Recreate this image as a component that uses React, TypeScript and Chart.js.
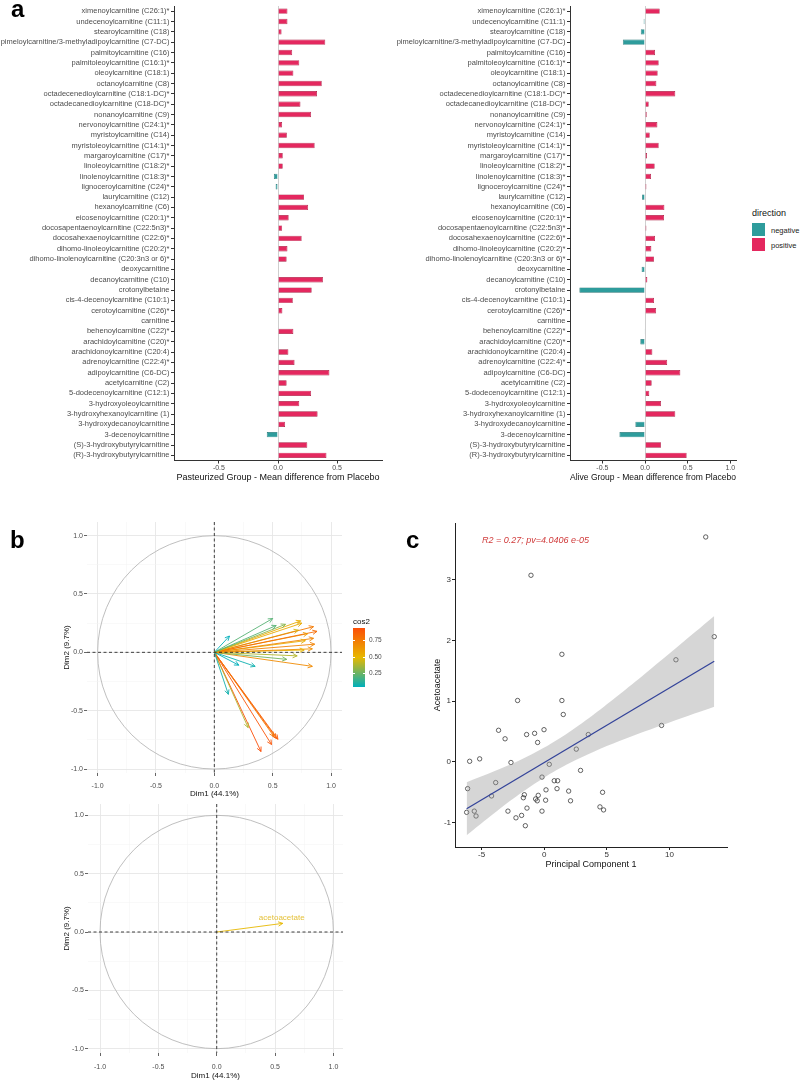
import React, { useEffect, useRef } from 'react';
import { Chart, registerables } from 'chart.js';

Chart.register(...registerables);

const FONT = "'Liberation Sans', Arial, Helvetica, sans-serif";
Chart.defaults.font.family = FONT;

// ---------------- Panel a data ----------------
const CATEGORIES = [
  'ximenoylcarnitine (C26:1)*',
  'undecenoylcarnitine (C11:1)',
  'stearoylcarnitine (C18)',
  'pimeloylcarnitine/3-methyladipoylcarnitine (C7-DC)',
  'palmitoylcarnitine (C16)',
  'palmitoleoylcarnitine (C16:1)*',
  'oleoylcarnitine (C18:1)',
  'octanoylcarnitine (C8)',
  'octadecenedioylcarnitine (C18:1-DC)*',
  'octadecanedioylcarnitine (C18-DC)*',
  'nonanoylcarnitine (C9)',
  'nervonoylcarnitine (C24:1)*',
  'myristoylcarnitine (C14)',
  'myristoleoylcarnitine (C14:1)*',
  'margaroylcarnitine (C17)*',
  'linoleoylcarnitine (C18:2)*',
  'linolenoylcarnitine (C18:3)*',
  'lignoceroylcarnitine (C24)*',
  'laurylcarnitine (C12)',
  'hexanoylcarnitine (C6)',
  'eicosenoylcarnitine (C20:1)*',
  'docosapentaenoylcarnitine (C22:5n3)*',
  'docosahexaenoylcarnitine (C22:6)*',
  'dihomo-linoleoylcarnitine (C20:2)*',
  'dihomo-linolenoylcarnitine (C20:3n3 or 6)*',
  'deoxycarnitine',
  'decanoylcarnitine (C10)',
  'crotonylbetaine',
  'cis-4-decenoylcarnitine (C10:1)',
  'cerotoylcarnitine (C26)*',
  'carnitine',
  'behenoylcarnitine (C22)*',
  'arachidoylcarnitine (C20)*',
  'arachidonoylcarnitine (C20:4)',
  'adrenoylcarnitine (C22:4)*',
  'adipoylcarnitine (C6-DC)',
  'acetylcarnitine (C2)',
  '5-dodecenoylcarnitine (C12:1)',
  '3-hydroxyoleoylcarnitine',
  '3-hydroxyhexanoylcarnitine (1)',
  '3-hydroxydecanoylcarnitine',
  '3-decenoylcarnitine',
  '(S)-3-hydroxybutyrylcarnitine',
  '(R)-3-hydroxybutyrylcarnitine',
];

const PASTEURIZED = [
  0.08, 0.08, 0.03, 0.40, 0.12, 0.18, 0.13, 0.37, 0.33, 0.19,
  0.28, 0.035, 0.075, 0.31, 0.04, 0.04, -0.035, -0.02, 0.22, 0.255,
  0.09, 0.035, 0.20, 0.08, 0.073, 0.005, 0.38, 0.285, 0.125, 0.037,
  0, 0.13, 0, 0.088, 0.14, 0.435, 0.073, 0.28, 0.18, 0.335,
  0.06, -0.095, 0.248, 0.41,
];

const ALIVE = [
  0.172, -0.016, -0.05, -0.26, 0.117, 0.16, 0.148, 0.133, 0.355, 0.043,
  0.02, 0.145, 0.055, 0.16, 0.023, 0.113, 0.07, 0.016, -0.035, 0.227,
  0.223, 0.016, 0.117, 0.074, 0.105, -0.04, 0.027, -0.77, 0.105, 0.13,
  0, -0.008, -0.055, 0.086, 0.26, 0.414, 0.078, 0.05, 0.187, 0.355,
  -0.113, -0.30, 0.187, 0.488,
];

const A_LEFT_TICKS = [-0.5, 0, 0.5];
const A_RIGHT_TICKS = [-0.5, 0, 0.5, 1.0];
const DIRECTION_LABELS = ['negative', 'positive'];

// ---------------- Panel b data ----------------
const ARROW_X = [
  0.50, 0.53, 0.61, 0.74, 0.75, 0.85, 0.88, 0.80, 0.72, 0.85,
  0.78, 0.86, 0.84, 0.77, 0.71, 0.62, 0.84, 0.13, 0.21, 0.35,
  0.12, 0.29, 0.40, 0.49, 0.51, 0.53, 0.545,
];
const ARROW_Y = [
  0.29, 0.23, 0.24, 0.27, 0.25, 0.22, 0.18, 0.16, 0.19, 0.12,
  0.10, 0.07, 0.03, 0.02, -0.03, -0.06, -0.12, 0.14, -0.11, -0.12,
  -0.36, -0.645, -0.85, -0.79, -0.72, -0.735, -0.745,
];
const ACETO_X = [0.566];
const ACETO_Y = [0.074];
const ACETO_LABEL = 'acetoacetate';
const B_GRID = [-1, -0.75, -0.5, -0.25, 0, 0.25, 0.5, 0.75, 1];
const COS2_TICKS = ['0.75', '0.50', '0.25'];

// ---------------- Panel c data ----------------
const PC1 = [
  -1.06, 13.58, 10.52, 1.41, -2.13, 1.41, 1.52, -3.65, -0.02, -1.41,
  -0.77, -3.13, -0.53, 3.52, 9.37, 2.56, -5.96, -5.16, -2.66, 0.40,
  2.90, -0.18, -3.88, 0.80, 1.07, -6.12, 0.14, 1.02, 1.95, 4.66,
  -4.21, -1.59, -1.67, -0.48, -0.69, -0.56, 0.11, 2.10, -1.38, 4.45,
  4.74, -2.90, -0.18, -6.20, -5.59, -5.45, -1.81, -2.26, -1.51, 12.9,
];
const ACETOACETATE = [
  3.07, 2.06, 1.68, 1.77, 1.01, 1.01, 0.78, 0.52, 0.53, 0.45,
  0.47, 0.38, 0.32, 0.45, 0.60, 0.21, 0.01, 0.05, -0.01, -0.04,
  -0.14, -0.25, -0.34, -0.31, -0.31, -0.44, -0.46, -0.44, -0.48, -0.50,
  -0.56, -0.54, -0.59, -0.55, -0.61, -0.64, -0.63, -0.64, -0.76, -0.74,
  -0.79, -0.81, -0.81, -0.83, -0.81, -0.89, -0.88, -0.92, -1.05, 3.70,
];
const FIT_X = [-6.2, 13.58];
const FIT_Y = [-0.77, 1.655];
const BAND_X = [-6.2, -4, -2, 0, 2, 4, 6, 8, 10, 12, 13.58];
const BAND_LOW = [-1.206, -0.845, -0.534, -0.256, -0.023, 0.171, 0.342, 0.499, 0.649, 0.795, 0.909];
const BAND_HIGH = [-0.334, -0.155, 0.024, 0.236, 0.493, 0.789, 1.110, 1.443, 1.783, 2.127, 2.401];
const C_X_TICKS = [-5, 0, 5, 10];
const C_Y_TICKS = [-1, 0, 1, 2, 3];
const STAT_TEXT = 'R2 = 0.27; pv=4.0406 e-05';

// ---------------- styles ----------------
const PINK = '#E4285F';
const PINK_EDGE = '#A9183F';
const TEAL = '#2E9C9C';
const TEAL_EDGE = '#1F7070';
const GRAD = ['#00AFBB', '#E7B800', '#FC4E07'];

function hexRgb(h: string) {
  const n = parseInt(h.slice(1), 16);
  return [(n >> 16) & 255, (n >> 8) & 255, n & 255];
}
function mix(a: string, b: string, t: number) {
  const A = hexRgb(a), B = hexRgb(b);
  const c = A.map((v, i) => Math.round(v + (B[i] - v) * t));
  return `rgb(${c[0]},${c[1]},${c[2]})`;
}
function gradColor(t: number) {
  const u = Math.max(0, Math.min(1, t));
  return u < 0.5 ? mix(GRAD[0], GRAD[1], u * 2) : mix(GRAD[1], GRAD[2], (u - 0.5) * 2);
}

const isMajor = (v: number) => Math.abs(v * 2 - Math.round(v * 2)) < 1e-6;

function barConfig(values: number[], xMin: number, xMax: number, xTicks: number[], title: string, yAxisWidth: number, padRight: number): any {
  return {
    type: 'bar',
    data: {
      labels: CATEGORIES,
      datasets: [{
        data: values,
        backgroundColor: values.map(v => (v < 0 ? TEAL : PINK)),
        borderColor: values.map(v => (v < 0 ? TEAL_EDGE : PINK_EDGE)),
        borderWidth: 0.7,
        barPercentage: 0.52,
        categoryPercentage: 1,
      }],
    },
    options: {
      indexAxis: 'y',
      responsive: false,
      animation: false,
      events: [],
      layout: { padding: { left: 0, right: padRight, top: 6, bottom: 0 } },
      plugins: { legend: { display: false }, tooltip: { enabled: false } },
      scales: {
        x: {
          type: 'linear', min: xMin, max: xMax,
          afterBuildTicks: (s: any) => { s.ticks = xTicks.map(v => ({ value: v })); },
          afterFit: (s: any) => { s.height = 29.5; },
          ticks: { callback: (v: any) => Number(v).toFixed(1), font: { size: 7 }, color: '#4d4d4d', padding: 0, maxRotation: 0, autoSkip: false },
          grid: {
            color: (ctx: any) => (ctx.tick && ctx.tick.value === 0 ? '#cfcfcf' : 'rgba(0,0,0,0)'),
            lineWidth: 1, tickColor: '#333', tickLength: 3, drawTicks: true,
          },
          border: { display: true, color: '#333', width: 1 },
          title: { display: true, text: title, color: '#111', font: { size: 9 }, padding: { top: 0, bottom: 6.6 } },
        },
        y: {
          type: 'category', offset: true,
          afterFit: (s: any) => { s.width = yAxisWidth; },
          ticks: { font: { size: 7.5 }, color: '#4d4d4d', padding: 1.5, autoSkip: false },
          grid: { drawOnChartArea: false, offset: false, tickColor: '#333', tickLength: 3 },
          border: { display: true, color: '#333', width: 1 },
        },
      },
    },
  };
}

const circlePlugin = {
  id: 'unitCircle',
  beforeDatasetsDraw(chart: any) {
    const { x, y } = chart.scales;
    const ctx = chart.ctx;
    const cx = x.getPixelForValue(0), cy = y.getPixelForValue(0);
    const rx = x.getPixelForValue(1) - cx, ry = cy - y.getPixelForValue(1);
    ctx.save();
    ctx.strokeStyle = '#b8b8b8';
    ctx.lineWidth = 0.9;
    ctx.beginPath();
    ctx.ellipse(cx, cy, rx, ry, 0, 0, Math.PI * 2);
    ctx.stroke();
    ctx.restore();
  },
  afterDatasetsDraw(chart: any) {
    const { x, y } = chart.scales;
    const a = chart.chartArea;
    const ctx = chart.ctx;
    const cx = x.getPixelForValue(0), cy = y.getPixelForValue(0);
    ctx.save();
    ctx.strokeStyle = '#2a2a2a';
    ctx.lineWidth = 0.9;
    ctx.setLineDash([3, 2.5]);
    ctx.beginPath();
    ctx.moveTo(a.left, cy); ctx.lineTo(a.right, cy);
    ctx.moveTo(cx, a.top); ctx.lineTo(cx, a.bottom);
    ctx.stroke();
    ctx.restore();
  },
};

const arrowPlugin = {
  id: 'arrowHeads',
  afterDatasetsDraw(chart: any) {
    const ctx = chart.ctx;
    chart.data.datasets.forEach((ds: any, i: number) => {
      if (!ds.isArrow) return;
      const meta = chart.getDatasetMeta(i);
      const p0 = meta.data[0], p1 = meta.data[1];
      const ang = Math.atan2(p1.y - p0.y, p1.x - p0.x);
      const L = 5;
      ctx.save();
      ctx.strokeStyle = ds.borderColor;
      ctx.lineWidth = 0.9;
      ctx.beginPath();
      ctx.moveTo(p1.x - L * Math.cos(ang - Math.PI / 7), p1.y - L * Math.sin(ang - Math.PI / 7));
      ctx.lineTo(p1.x, p1.y);
      ctx.lineTo(p1.x - L * Math.cos(ang + Math.PI / 7), p1.y - L * Math.sin(ang + Math.PI / 7));
      ctx.stroke();
      ctx.restore();
    });
  },
};

function pcaConfig(opts: {
  xs: number[]; ys: number[]; colors: string[];
  xMin: number; xMax: number; yMin: number; yMax: number;
  yAxisW: number; xAxisH: number; padTop: number; padRight: number;
  tickPad: number; titlePadBottom: number; yTitlePad: number;
  label?: { text: string; x: number; y: number; color: string };
}): any {
  const datasets = opts.xs.map((x, i) => ({
    data: [{ x: 0, y: 0 }, { x, y: opts.ys[i] }],
    showLine: true,
    borderColor: opts.colors[i],
    borderWidth: 0.9,
    pointRadius: 0,
    isArrow: true,
  }));
  const labelPlugin = {
    id: 'varLabel',
    afterDatasetsDraw(chart: any) {
      if (!opts.label) return;
      const { x, y } = chart.scales;
      const ctx = chart.ctx;
      ctx.save();
      ctx.font = `8px ${FONT}`;
      ctx.fillStyle = opts.label.color;
      ctx.textAlign = 'center';
      ctx.textBaseline = 'middle';
      ctx.fillText(opts.label.text, x.getPixelForValue(opts.label.x), y.getPixelForValue(opts.label.y));
      ctx.restore();
    },
  };
  const axis = (min: number, max: number, isX: boolean, title: string) => ({
    type: 'linear', min, max,
    afterBuildTicks: (s: any) => { s.ticks = B_GRID.map(v => ({ value: v })); },
    afterFit: (s: any) => { if (isX) s.height = opts.xAxisH; else s.width = opts.yAxisW; },
    ticks: {
      callback: (v: any) => (isMajor(Number(v)) ? Number(v).toFixed(1) : ''),
      font: { size: 7 }, color: '#4d4d4d', padding: isX ? opts.tickPad : 1, autoSkip: false, maxRotation: 0,
    },
    grid: {
      color: (ctx: any) => (ctx.tick && isMajor(ctx.tick.value) ? '#e6e6e6' : '#f3f3f3'),
      lineWidth: (ctx: any) => (ctx.tick && isMajor(ctx.tick.value) ? 0.9 : 0.5),
      tickColor: (ctx: any) => (ctx.tick && isMajor(ctx.tick.value) ? '#555' : 'rgba(0,0,0,0)'),
      tickLength: 3,
    },
    border: { display: false },
    title: {
      display: true, text: title, color: '#111', font: { size: 8 },
      padding: isX ? { top: 0, bottom: opts.titlePadBottom } : { top: opts.yTitlePad, bottom: 0 },
    },
  });
  return {
    type: 'scatter',
    data: { datasets },
    options: {
      responsive: false, animation: false, events: [],
      layout: { padding: { left: 0, right: opts.padRight, top: opts.padTop, bottom: 0 } },
      plugins: { legend: { display: false }, tooltip: { enabled: false } },
      scales: {
        x: axis(opts.xMin, opts.xMax, true, 'Dim1 (44.1%)'),
        y: axis(opts.yMin, opts.yMax, false, 'Dim2 (9.7%)'),
      },
    },
    plugins: [circlePlugin, arrowPlugin, labelPlugin],
  };
}

function regressionConfig(): any {
  const statPlugin = {
    id: 'statText',
    afterDatasetsDraw(chart: any) {
      const { x, y } = chart.scales;
      const ctx = chart.ctx;
      ctx.save();
      ctx.font = `italic 9px ${FONT}`;
      ctx.fillStyle = '#D03A3A';
      ctx.textAlign = 'left';
      ctx.textBaseline = 'middle';
      ctx.fillText(STAT_TEXT, x.getPixelForValue(-4.97), y.getPixelForValue(3.65));
      ctx.restore();
    },
  };
  const axisCommon = {
    grid: { drawOnChartArea: false, tickColor: '#222', tickLength: 3 },
    border: { display: true, color: '#222', width: 1 },
  };
  return {
    type: 'scatter',
    data: {
      datasets: [
        {
          data: FIT_X.map((x, i) => ({ x, y: FIT_Y[i] })),
          showLine: true, borderColor: '#34449A', borderWidth: 1.3, pointRadius: 0, fill: false,
        },
        {
          data: BAND_X.map((x, i) => ({ x, y: BAND_HIGH[i] })),
          showLine: true, borderWidth: 0, borderColor: 'rgba(0,0,0,0)', pointRadius: 0,
          fill: '+1', backgroundColor: 'rgba(153,153,153,0.4)', tension: 0.3,
        },
        {
          data: BAND_X.map((x, i) => ({ x, y: BAND_LOW[i] })),
          showLine: true, borderWidth: 0, borderColor: 'rgba(0,0,0,0)', pointRadius: 0, fill: false, tension: 0.3,
        },
        {
          data: PC1.map((x, i) => ({ x, y: ACETOACETATE[i] })),
          pointRadius: 2.2, pointBorderWidth: 0.7, pointBorderColor: '#222',
          pointBackgroundColor: 'rgba(0,0,0,0)', showLine: false,
        },
      ],
    },
    options: {
      responsive: false, animation: false, events: [],
      layout: { padding: { left: 0, right: 13, top: 8, bottom: 0 } },
      plugins: { legend: { display: false }, tooltip: { enabled: false } },
      scales: {
        x: {
          type: 'linear', min: -7.13, max: 14.6,
          afterBuildTicks: (s: any) => { s.ticks = C_X_TICKS.map(v => ({ value: v })); },
          afterFit: (s: any) => { s.height = 28; },
          ticks: { font: { size: 8 }, color: '#333', padding: 0.2, maxRotation: 0, autoSkip: false, callback: (v: any) => String(v) },
          title: { display: true, text: 'Principal Component 1', color: '#111', font: { size: 9 }, padding: { top: 0, bottom: 4.6 } },
          ...axisCommon,
        },
        y: {
          type: 'linear', min: -1.40, max: 3.93,
          afterBuildTicks: (s: any) => { s.ticks = C_Y_TICKS.map(v => ({ value: v })); },
          afterFit: (s: any) => { s.width = 55; },
          ticks: { font: { size: 8 }, color: '#333', padding: 1, autoSkip: false, callback: (v: any) => String(v) },
          title: { display: true, text: 'Acetoacetate', color: '#111', font: { size: 9 }, padding: { top: 32.6, bottom: 0 } },
          ...axisCommon,
        },
      },
    },
    plugins: [statPlugin],
  };
}

function ChartCanvas({ left, top, width, height, make }: { left: number; top: number; width: number; height: number; make: () => any }) {
  const ref = useRef<HTMLCanvasElement | null>(null);
  useEffect(() => {
    if (!ref.current) return;
    const chart = new Chart(ref.current, make());
    return () => chart.destroy();
  }, []);
  return (
    <canvas
      ref={ref}
      width={width}
      height={height}
      style={{ position: 'absolute', left, top, width, height }}
    />
  );
}

function Txt({ x, y, size, children, color = '#111', bold = false }: any) {
  return (
    <div style={{
      position: 'absolute', left: x, top: y - size * 0.6, fontSize: size, lineHeight: `${size * 1.2}px`,
      color, fontWeight: bold ? 700 : 400, whiteSpace: 'nowrap', fontFamily: FONT,
    }}>{children}</div>
  );
}

function PanelLetter({ x, baseline, text }: { x: number; baseline: number; text: string }) {
  return (
    <div style={{
      position: 'absolute', left: x, top: baseline - 24 * 0.9465, fontSize: 24, lineHeight: '28.8px',
      fontWeight: 700, color: '#000', fontFamily: FONT,
    }}>{text}</div>
  );
}

export default function App() {
  const cos2 = ARROW_X.map((x, i) => x * x + ARROW_Y[i] * ARROW_Y[i]);
  const cMin = Math.min(...cos2), cMax = Math.max(...cos2);
  const arrowColors = cos2.map(c => gradColor(Math.pow((c - cMin) / (cMax - cMin), 1.6)));

  return (
    <div style={{ position: 'absolute', left: 0, top: 0, width: 800, height: 1081, background: '#fff', overflow: 'hidden', fontFamily: FONT }}>
      <ChartCanvas left={0} top={0} width={400} height={490}
        make={() => barConfig(PASTEURIZED, -0.88, 0.88, A_LEFT_TICKS, 'Pasteurized Group - Mean difference from Placebo', 174, 18)} />
      <ChartCanvas left={390} top={0} width={355} height={490}
        make={() => barConfig(ALIVE, -0.88, 1.067, A_RIGHT_TICKS, 'Alive Group - Mean difference from Placebo', 180, 9)} />

      <ChartCanvas left={55} top={510} width={290} height={290}
        make={() => pcaConfig({
          xs: ARROW_X, ys: ARROW_Y, colors: arrowColors,
          xMin: -1.091, xMax: 1.094, yMin: -1.034, yMax: 1.117,
          yAxisW: 32, xAxisH: 27, padTop: 12, padRight: 3,
          tickPad: 5.8, titlePadBottom: 1.2, yTitlePad: 7.2,
        })} />
      <ChartCanvas left={55} top={798} width={290} height={283}
        make={() => pcaConfig({
          xs: ACETO_X, ys: ACETO_Y, colors: ['#E7B800'],
          xMin: -1.103, xMax: 1.082, yMin: -1.037, yMax: 1.097,
          yAxisW: 33, xAxisH: 28, padTop: 6, padRight: 2,
          tickPad: 6.5, titlePadBottom: 0.5, yTitlePad: 6.9,
          label: { text: ACETO_LABEL, x: 0.557, y: 0.126, color: '#E5C23C' },
        })} />

      <ChartCanvas left={400} top={515} width={340} height={360} make={regressionConfig} />

      {/* panel letters */}
      <PanelLetter x={11} baseline={18} text="a" />
      <PanelLetter x={10} baseline={549} text="b" />
      <PanelLetter x={406} baseline={549} text="c" />

      {/* direction legend */}
      <Txt x={752} y={213} size={9}>direction</Txt>
      <div style={{ position: 'absolute', left: 752, top: 223, width: 13, height: 13, background: TEAL }} />
      <div style={{ position: 'absolute', left: 752, top: 238, width: 13, height: 13, background: PINK }} />
      <Txt x={771} y={230} size={7.5} color="#222">{DIRECTION_LABELS[0]}</Txt>
      <Txt x={771} y={245} size={7.5} color="#222">{DIRECTION_LABELS[1]}</Txt>

      {/* cos2 legend */}
      <Txt x={353} y={622} size={8}>cos2</Txt>
      <div style={{
        position: 'absolute', left: 353, top: 628, width: 12, height: 59,
        background: `linear-gradient(to bottom, ${GRAD[2]}, ${GRAD[1]}, ${GRAD[0]})`,
      }} />
      {[640, 657, 673].map((yy, i) => (
        <React.Fragment key={i}>
          <div style={{ position: 'absolute', left: 353, top: yy, width: 2, height: 0.8, background: '#fff' }} />
          <div style={{ position: 'absolute', left: 363, top: yy, width: 2, height: 0.8, background: '#fff' }} />
          <Txt x={369} y={yy} size={6.5} color="#4d4d4d">{COS2_TICKS[i]}</Txt>
        </React.Fragment>
      ))}
    </div>
  );
}
